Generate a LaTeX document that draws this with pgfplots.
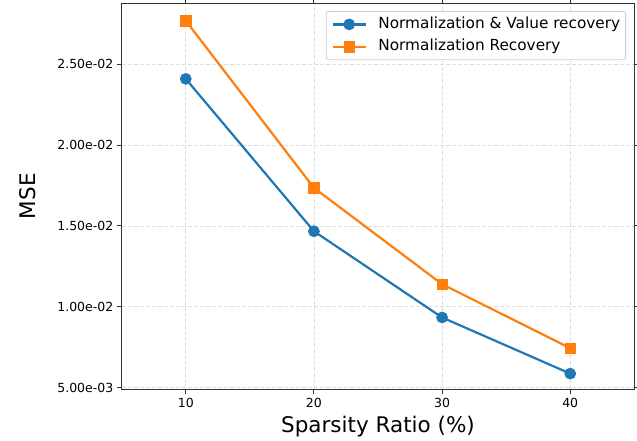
\documentclass[border=0pt]{standalone}
\usepackage{pgfplots}
\pgfplotsset{compat=1.18}
\usepackage{fontspec}
\setmainfont{DejaVu Sans}
\definecolor{mblue}{HTML}{1F77B4}
\definecolor{morange}{HTML}{FF7F0E}
\begin{document}
\begin{tikzpicture}
\useasboundingbox (-121.7pt,-50.7pt) rectangle (515.3pt,389.3pt);
\begin{axis}[
  scale only axis, width=512.6pt, height=386pt,
  xmin=5, xmax=45, ymin=0.0049, ymax=0.02876,
  xtick={10,20,30,40},
  ytick={0.005,0.01,0.015,0.02,0.025},
  yticklabels={5.00e-03,1.00e-02,1.50e-02,2.00e-02,2.50e-02},
  scaled y ticks=false,
  tick align=outside, major tick length=4.9pt,
  tick style={black!80, line width=0.9pt},
  axis line style={black!80, line width=0.9pt},
  grid=major,
  major grid style={black!13, dash pattern=on 4pt off 2pt, line width=0.8pt},
  tick label style={font=\fontsize{12.5}{14}\selectfont},
  /pgf/number format/assume math mode=true,
  xlabel={Sparsity Ratio (\%)}, ylabel={MSE},
  label style={font=\fontsize{21.5}{25}\selectfont},
  xlabel style={at={(axis description cs:0.5,-0.1124)}, anchor=base},
  ylabel style={at={(axis description cs:-0.169,0.5)}, anchor=base},
  legend cell align=left,
  legend style={at={(1,1)}, anchor=north east, xshift=-8.3pt, yshift=-7.7pt,
    draw=black!20, rounded corners=2.5pt, line width=0.8pt,
    font=\fontsize{15.3}{18}\selectfont,
    inner xsep=5.4pt, inner ysep=5.75pt, row sep=7.8pt, column sep=11.6pt,
    nodes={inner sep=0pt, text height=11pt, text depth=3.5pt}},
  legend image code/.code={\draw[mark repeat=2, mark phase=2]
    plot coordinates {(0pt,0pt)(16.5pt,0pt)(33pt,0pt)};},
]
\addplot[mblue, line width=2.2pt, mark=*, mark size=5.6pt,
  mark options={line width=0.5pt}]
  coordinates {(10,0.02409)(20,0.01467)(30,0.00934)(40,0.00587)};
\addlegendentry{Normalization \& Value recovery}
\addplot[morange, line width=2.2pt, mark=square*, mark size=5.2pt,
  mark options={line width=0.5pt}]
  coordinates {(10,0.02768)(20,0.01735)(30,0.0114)(40,0.00744)};
\addlegendentry{Normalization Recovery}
\end{axis}
\end{tikzpicture}
\end{document}
